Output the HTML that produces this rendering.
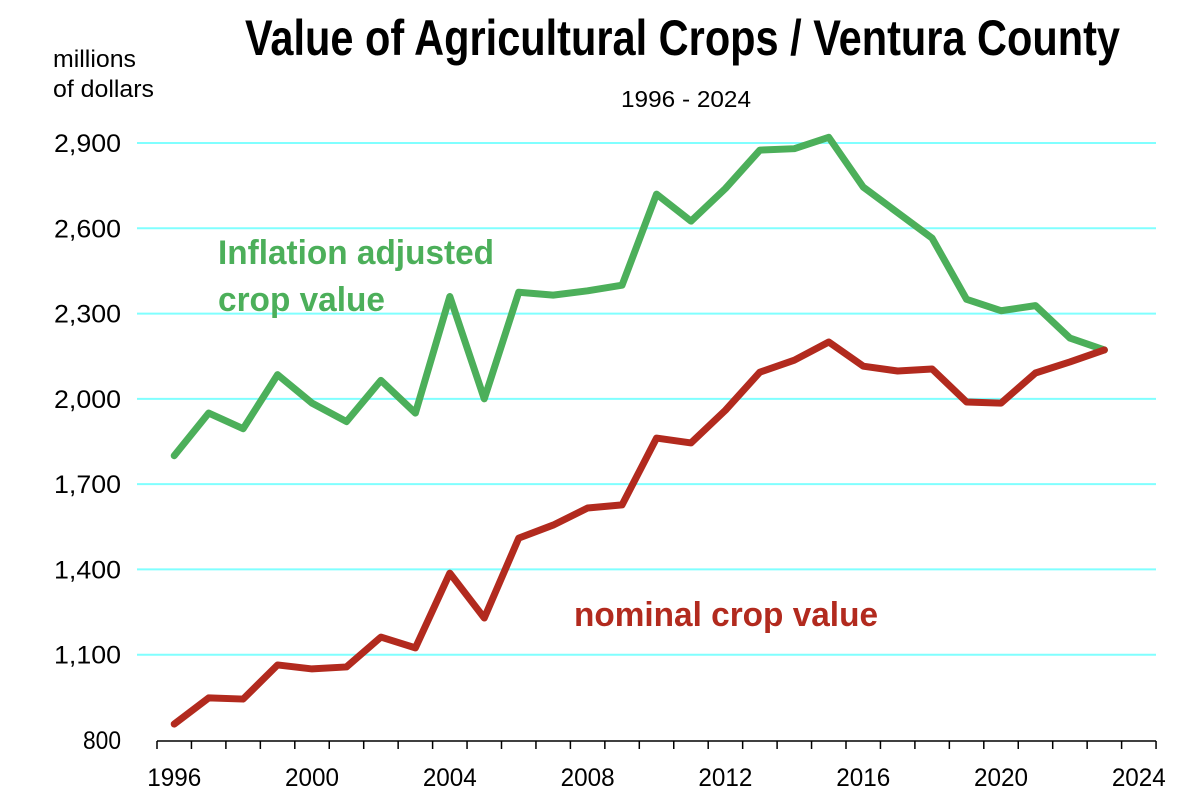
<!DOCTYPE html>
<html><head><meta charset="utf-8"><style>
html,body{margin:0;padding:0;background:#fff;}
svg{display:block;font-family:"Liberation Sans",sans-serif;}
</style></head><body>
<svg id="chart" width="1200" height="799" viewBox="0 0 1200 799">
<text x="245" y="55" font-size="50" font-weight="bold" textLength="875" lengthAdjust="spacingAndGlyphs">Value of Agricultural Crops / Ventura County</text>
<text x="621" y="107" font-size="23" textLength="130" lengthAdjust="spacingAndGlyphs">1996 - 2024</text>
<text x="53" y="67" font-size="24" textLength="83" lengthAdjust="spacingAndGlyphs">millions</text>
<text x="53" y="97" font-size="24" textLength="101" lengthAdjust="spacingAndGlyphs">of dollars</text>
<g id="grid"></g><g id="yticks"></g><g id="xaxis"></g><g id="series"></g>
<text x="218" y="264" font-size="34" font-weight="bold" fill="#4caf5a" textLength="276" lengthAdjust="spacingAndGlyphs">Inflation adjusted</text>
<text x="218" y="311" font-size="34" font-weight="bold" fill="#4caf5a" textLength="167" lengthAdjust="spacingAndGlyphs">crop value</text>
<text x="574" y="626" font-size="34" font-weight="bold" fill="#b22a1e" textLength="304" lengthAdjust="spacingAndGlyphs">nominal crop value</text>
</svg>
<script>
const years = [1996,1997,1998,1999,2000,2001,2002,2003,2004,2005,2006,2007,2008,2009,2010,2011,2012,2013,2014,2015,2016,2017,2018,2019,2020,2021,2022,2023];
const adjustedValues = [1800,1950,1895,2085,1985,1920,2065,1950,2360,2000,2375,2365,2380,2400,2720,2625,2740,2875,2880,2920,2745,2655,2565,2350,2310,2328,2214,2172];
const nominalValues = [856,948,944,1064,1050,1057,1162,1124,1387,1229,1510,1556,1616,1627,1862,1845,1960,2094,2136,2200,2115,2098,2105,1989,1985,2091,2130,2172];
const yTicks = [800,1100,1400,1700,2000,2300,2600,2900];
const xTickLabels = [1996,2000,2004,2008,2012,2016,2020,2024];

const NS = "http://www.w3.org/2000/svg";
const X0 = 157, STEP = 34.45, FIRST = 1996;
const Y0 = 740, YMIN = 800, YMAX = 2900, YTOP = 143;
function xScale(yr){ return X0 + (yr - FIRST + 0.5) * STEP; }
function yScale(v){ return Y0 - (v - YMIN) / (YMAX - YMIN) * (Y0 - YTOP); }
function mk(tag, attrs, parent){ const e=document.createElementNS(NS,tag); for(const k in attrs) e.setAttribute(k,attrs[k]); parent.appendChild(e); return e; }

const grid=document.getElementById('grid'), yt=document.getElementById('yticks'), xa=document.getElementById('xaxis'), ser=document.getElementById('series');
yTicks.forEach(v=>{
  const y=yScale(v);
  if(v>YMIN){
    const l=mk('line',{x1:137,x2:1156,y1:y,y2:y,stroke:'#80ffff','stroke-width':2},grid);
    
    
  }
  const s=v.toLocaleString('en-US');
  const t=mk('text',{x:121,y:y+9,'font-size':25,'text-anchor':'end',textLength:s.length>3?67:38,lengthAdjust:'spacingAndGlyphs'},yt);
  t.textContent=s;
  
  
});
const axis=mk('line',{x1:X0,x2:X0+29*STEP,y1:Y0+1,y2:Y0+1,stroke:'#000','stroke-width':1.5},xa);


for(let i=0;i<=29;i++){
  const tk=mk('line',{x1:X0+i*STEP,x2:X0+i*STEP,y1:Y0+1,y2:Y0+9,stroke:'#000','stroke-width':1.5},xa);
  
  
}
xTickLabels.forEach(yr=>{
  const t=mk('text',{x:xScale(yr)-27,y:786,'font-size':25,textLength:54,lengthAdjust:'spacingAndGlyphs'},xa);
  t.textContent=yr;
  
  
});
function line(vals,color,name){
  const pts=vals.map((v,i)=>xScale(years[i])+','+yScale(v)).join(' ');
  const p=mk('polyline',{points:pts,fill:'none',stroke:color,'stroke-width':7,'stroke-linejoin':'round','stroke-linecap':'round'},ser);
  
  
}
line(adjustedValues,'#4caf5a','inflation-adjusted-line');
line(nominalValues,'#b22a1e','nominal-line');
</script>
</body></html>
